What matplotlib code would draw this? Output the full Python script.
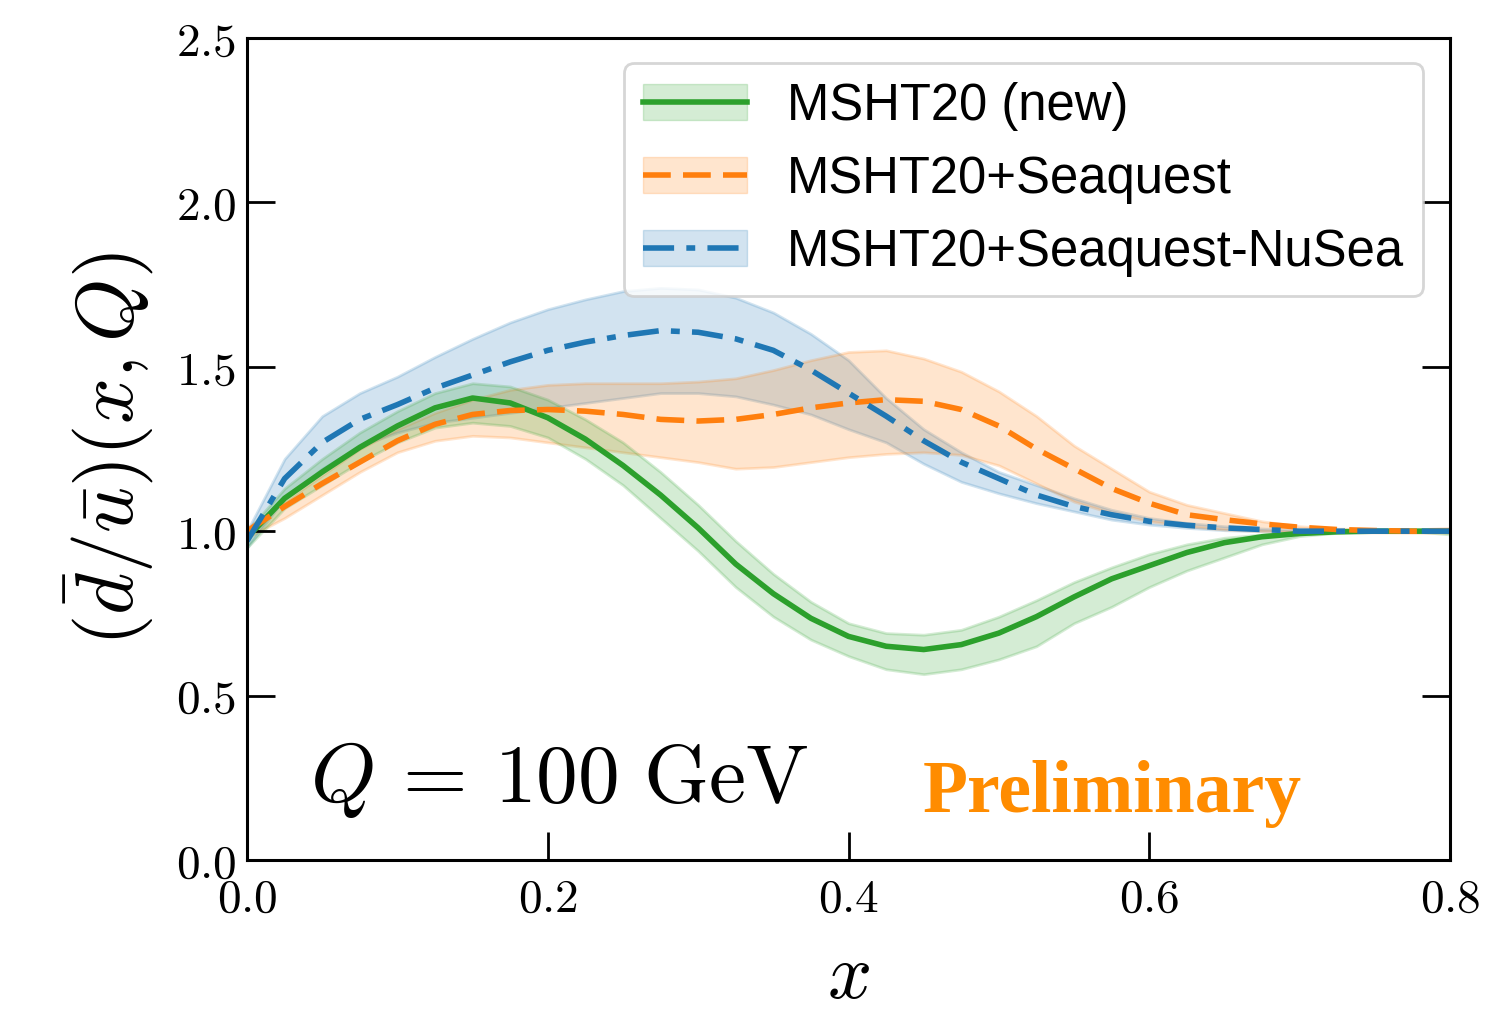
import matplotlib
matplotlib.use("Agg")
import matplotlib.pyplot as plt
from matplotlib.patches import Patch
from matplotlib.lines import Line2D
import numpy as np

plt.rcParams['mathtext.fontset'] = 'cm'

# x grid (every 0.025)
x = [0.000, 0.025, 0.050, 0.075, 0.100, 0.125, 0.150, 0.175, 0.200, 0.225,
     0.250, 0.275, 0.300, 0.325, 0.350, 0.375, 0.400, 0.425, 0.450, 0.475,
     0.500, 0.525, 0.550, 0.575, 0.600, 0.625, 0.650, 0.675, 0.700, 0.725,
     0.750, 0.775, 0.800]

# MSHT20 (new)
green_c = [0.98, 1.10, 1.18, 1.255, 1.32, 1.375, 1.405, 1.39, 1.345, 1.28,
           1.20, 1.11, 1.01, 0.90, 0.81, 0.735, 0.68, 0.65, 0.64, 0.655,
           0.69, 0.74, 0.80, 0.855, 0.895, 0.935, 0.965, 0.983, 0.993, 0.998,
           1.0, 1.0, 1.0]
green_hi = [1.00, 1.13, 1.22, 1.30, 1.365, 1.42, 1.45, 1.44, 1.40, 1.34,
            1.27, 1.18, 1.08, 0.97, 0.87, 0.785, 0.72, 0.69, 0.685, 0.70,
            0.74, 0.79, 0.845, 0.89, 0.93, 0.96, 0.98, 0.99, 0.998, 1.0,
            1.0, 1.0, 1.0]
green_lo = [0.95, 1.07, 1.14, 1.21, 1.27, 1.315, 1.33, 1.32, 1.285, 1.22,
            1.14, 1.04, 0.94, 0.83, 0.74, 0.67, 0.62, 0.58, 0.565, 0.58,
            0.61, 0.65, 0.72, 0.77, 0.83, 0.88, 0.92, 0.96, 0.985, 0.995,
            1.0, 1.0, 0.99]

# MSHT20+Seaquest
orange_c = [1.00, 1.075, 1.145, 1.21, 1.275, 1.325, 1.355, 1.367, 1.37, 1.365,
            1.355, 1.34, 1.335, 1.34, 1.355, 1.375, 1.39, 1.40, 1.395, 1.37,
            1.32, 1.25, 1.19, 1.13, 1.085, 1.05, 1.035, 1.022, 1.012, 1.005,
            1.002, 1.0, 1.0]
orange_hi = [1.01, 1.09, 1.17, 1.25, 1.31, 1.36, 1.40, 1.43, 1.445, 1.45,
             1.45, 1.45, 1.455, 1.465, 1.49, 1.52, 1.545, 1.55, 1.525, 1.485,
             1.425, 1.35, 1.26, 1.19, 1.12, 1.08, 1.055, 1.03, 1.015, 1.008,
             1.005, 1.005, 1.01]
orange_lo = [0.98, 1.04, 1.11, 1.18, 1.24, 1.275, 1.29, 1.285, 1.27, 1.255,
             1.24, 1.225, 1.21, 1.19, 1.195, 1.21, 1.225, 1.235, 1.24, 1.232,
             1.20, 1.145, 1.09, 1.055, 1.03, 1.015, 1.005, 1.0, 0.998, 0.997,
             0.996, 0.995, 0.995]

# MSHT20+Seaquest-NuSea
blue_c = [0.97, 1.16, 1.27, 1.34, 1.385, 1.435, 1.475, 1.515, 1.55, 1.575,
          1.595, 1.61, 1.605, 1.585, 1.55, 1.49, 1.42, 1.35, 1.275, 1.21,
          1.16, 1.11, 1.075, 1.05, 1.03, 1.018, 1.01, 1.005, 1.0, 1.0,
          1.0, 1.0, 1.0]
blue_hi = [1.00, 1.22, 1.35, 1.42, 1.47, 1.53, 1.585, 1.635, 1.675, 1.705,
           1.73, 1.74, 1.735, 1.71, 1.665, 1.60, 1.52, 1.405, 1.31, 1.24,
           1.18, 1.14, 1.10, 1.065, 1.04, 1.025, 1.015, 1.008, 1.003, 1.0,
           1.0, 1.0, 1.0]
blue_lo = [0.95, 1.10, 1.19, 1.26, 1.30, 1.33, 1.345, 1.36, 1.375, 1.39,
           1.405, 1.42, 1.42, 1.41, 1.385, 1.355, 1.31, 1.27, 1.205, 1.15,
           1.115, 1.085, 1.06, 1.035, 1.02, 1.01, 1.003, 1.0, 1.0, 1.0,
           1.0, 1.0, 1.0]

labels = ['MSHT20 (new)', 'MSHT20+Seaquest', 'MSHT20+Seaquest-NuSea']
xticks = [0.0, 0.2, 0.4, 0.6, 0.8]
xticklabels = ['$0.0$', '$0.2$', '$0.4$', '$0.6$', '$0.8$']
yticks = [0.0, 0.5, 1.0, 1.5, 2.0, 2.5]
yticklabels = ['$0.0$', '$0.5$', '$1.0$', '$1.5$', '$2.0$', '$2.5$']

green = '#2ca02c'
orange = '#ff7f0e'
blue = '#1f77b4'
dashed = (0, (5, 2.2))
dashdot = (0, (5.6, 2.2, 1.6, 2.2))
lw = 4

fig = plt.figure(figsize=(15.11, 10.24), dpi=100)
ax = fig.add_axes([0.1635, 0.1602, 0.7961, 0.8027])

ax.fill_between(x, blue_lo, blue_hi, facecolor=blue, alpha=0.2,
                edgecolor=blue, linewidth=2)
ax.fill_between(x, orange_lo, orange_hi, facecolor=orange, alpha=0.2,
                edgecolor=orange, linewidth=2)
ax.fill_between(x, green_lo, green_hi, facecolor=green, alpha=0.2,
                edgecolor=green, linewidth=2)

ax.plot(x, green_c, color=green, lw=lw, ls='-')
ax.plot(x, orange_c, color=orange, lw=lw, ls=dashed)
ax.plot(x, blue_c, color=blue, lw=lw, ls=dashdot)

ax.set_xlim(0, 0.8)
ax.set_ylim(0, 2.5)
ax.set_xticks(xticks)
ax.set_xticklabels(xticklabels)
ax.set_yticks(yticks)
ax.set_yticklabels(yticklabels)
ax.tick_params(axis='both', which='major', direction='in', length=20,
               width=2, labelsize=34, pad=8)
ax.tick_params(axis='y', right=True, left=True)
ax.tick_params(axis='x', top=False, pad=12)
for sp in ax.spines.values():
    sp.set_linewidth(2.2)

ax.set_xlabel('$x$', fontsize=56, labelpad=12)
ax.set_ylabel(r'$(\bar{d}/\bar{u})(x,Q)$', fontsize=58, labelpad=14)

ax.text(0.052, 0.07, r'$Q\,=\,100\ \mathrm{GeV}$', transform=ax.transAxes,
        fontsize=60, ha='left', va='baseline')
ax.text(0.562, 0.058, 'Preliminary', transform=ax.transAxes,
        fontsize=53, fontweight='bold', family='Liberation Serif',
        color='#ff8c00', ha='left', va='baseline')

handles = [
    (Patch(facecolor=green, alpha=0.2, edgecolor=green),
     Line2D([], [], color=green, lw=lw)),
    (Patch(facecolor=orange, alpha=0.2, edgecolor=orange),
     Line2D([], [], color=orange, lw=lw, ls=dashed)),
    (Patch(facecolor=blue, alpha=0.2, edgecolor=blue),
     Line2D([], [], color=blue, lw=lw, ls=dashdot)),
]
leg = ax.legend(handles, labels, loc='upper right',
                bbox_to_anchor=(0.978, 0.97), borderaxespad=0,
                prop={'family': 'Liberation Sans', 'size': 36.6},
                handlelength=2.05, handletextpad=0.78, labelspacing=0.47,
                borderpad=0.38, fancybox=True, framealpha=0.8)
leg.get_frame().set_linewidth(2)

fig.savefig('out.png', dpi=100)
